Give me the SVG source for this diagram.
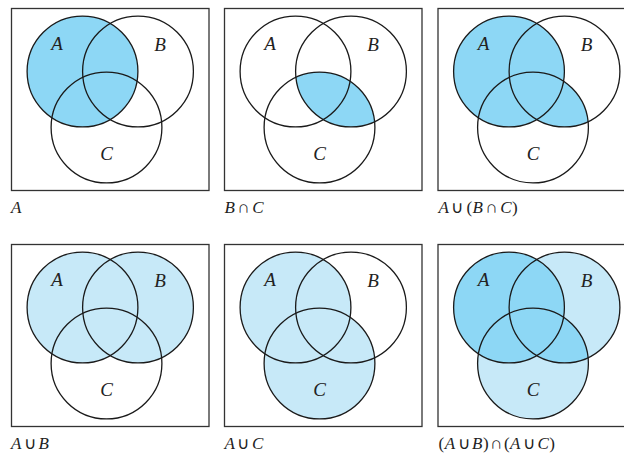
<svg xmlns="http://www.w3.org/2000/svg" width="624" height="454" viewBox="0 0 624 454">
<style>
.frame{fill:none;stroke:#333;stroke-width:1.3}
.ring{fill:none;stroke:#1a1a1a;stroke-width:1.3}
.dark{fill:#8dd7f5}
.light{fill:#c7e9f8}
.lbl{font-family:"Liberation Serif","Times New Roman",serif;font-style:italic;font-size:19px;fill:#222;text-anchor:middle}
.cap{font-family:"Liberation Serif","Times New Roman",serif;font-size:17px;fill:#222}
.cap .i{font-style:italic}
.cap .op{font-weight:normal}
</style>
<defs>
<circle id="cA" cx="71" cy="63" r="55.4"/>
<circle id="cB" cx="126.5" cy="63" r="55.4"/>
<circle id="cC" cx="95" cy="119" r="55.4"/>
<clipPath id="clipC" clipPathUnits="userSpaceOnUse"><use href="#cC"/></clipPath>
<g id="rings">
<use href="#cA" class="ring"/>
<use href="#cB" class="ring"/>
<use href="#cC" class="ring"/>
</g>
<g id="labels">
<text class="lbl" x="45.5" y="41.5">A</text>
<text class="lbl" x="148.5" y="42.5">B</text>
<text class="lbl" x="95" y="151">C</text>
</g>
</defs>

<g id="panel-A" transform="translate(11.5,8.5)">
<rect class="frame" x="0" y="0" width="197.5" height="182"/>
<use href="#cA" class="dark"/>
<use href="#rings"/>
<use href="#labels"/>
</g>

<g id="panel-BnC" transform="translate(224.5,8.5)">
<rect class="frame" x="0" y="0" width="197.5" height="182"/>
<use href="#cB" class="dark" clip-path="url(#clipC)"/>
<use href="#rings"/>
<use href="#labels"/>
</g>

<g id="panel-AuBnC" transform="translate(438,8.5)">
<rect class="frame" x="0" y="0" width="197.5" height="182"/>
<use href="#cA" class="dark"/>
<use href="#cB" class="dark" clip-path="url(#clipC)"/>
<use href="#rings"/>
<use href="#labels"/>
</g>

<g id="panel-AuB" transform="translate(11.5,244.5)">
<rect class="frame" x="0" y="0" width="197.5" height="182"/>
<use href="#cA" class="light"/>
<use href="#cB" class="light"/>
<use href="#rings"/>
<use href="#labels"/>
</g>

<g id="panel-AuC" transform="translate(224.5,244.5)">
<rect class="frame" x="0" y="0" width="197.5" height="182"/>
<use href="#cA" class="light"/>
<use href="#cC" class="light"/>
<use href="#rings"/>
<use href="#labels"/>
</g>

<g id="panel-AuBnAuC" transform="translate(438,244.5)">
<rect class="frame" x="0" y="0" width="197.5" height="182"/>
<use href="#cB" class="light"/>
<use href="#cC" class="light"/>
<use href="#cA" class="dark"/>
<use href="#cB" class="dark" clip-path="url(#clipC)"/>
<use href="#rings"/>
<use href="#labels"/>
</g>

<g id="captions">
<text class="cap" x="11" y="213"><tspan class="i">A</tspan></text>
<text class="cap" x="224.5" y="213"><tspan class="i">B</tspan><tspan dx="2.5">∩</tspan><tspan class="i" dx="2.5">C</tspan></text>
<text class="cap" x="438.5" y="213"><tspan class="i">A</tspan><tspan dx="2.5">∪</tspan><tspan dx="3">(</tspan><tspan class="i" dx="0.5">B</tspan><tspan dx="2.5">∩</tspan><tspan class="i" dx="2.5">C</tspan><tspan dx="0.5">)</tspan></text>
<text class="cap" x="11" y="449"><tspan class="i">A</tspan><tspan dx="2.5">∪</tspan><tspan class="i" dx="2.5">B</tspan></text>
<text class="cap" x="224.5" y="449"><tspan class="i">A</tspan><tspan dx="2.5">∪</tspan><tspan class="i" dx="2.5">C</tspan></text>
<text class="cap" x="438.5" y="449">(<tspan class="i" dx="0.5">A</tspan><tspan dx="2.5">∪</tspan><tspan class="i" dx="2.5">B</tspan><tspan dx="0.5">)</tspan><tspan dx="1.5">∩</tspan><tspan dx="1.5">(</tspan><tspan class="i" dx="0.5">A</tspan><tspan dx="2.5">∪</tspan><tspan class="i" dx="2.5">C</tspan><tspan dx="0.5">)</tspan></text>
</g>
</svg>
